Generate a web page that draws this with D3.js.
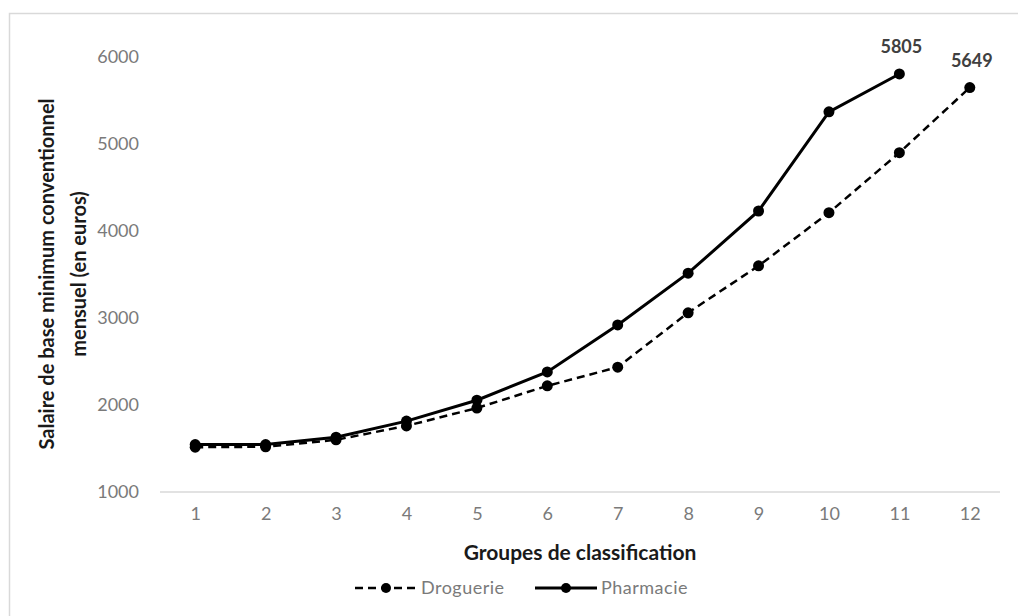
<!DOCTYPE html>
<html>
<head>
<meta charset="utf-8">
<script src="https://cdn.jsdelivr.net/npm/d3@7"></script>
<style>
  body { margin: 0; background: #fff; }
  svg { font-family: Lato, "Open Sans", sans-serif; }
</style>
</head>
<body>
<div id="chart"></div>
<script>
// Salaire de base minimum conventionnel mensuel par groupe de classification

const groups = [1, 2, 3, 4, 5, 6, 7, 8, 9, 10, 11, 12];
const droguerie = [1515, 1520, 1600, 1760, 1965, 2220, 2435, 3060, 3600, 4210, 4900, 5649];
const pharmacie = [1545, 1545, 1630, 1815, 2055, 2380, 2920, 3515, 4230, 5370, 5805];
const yTicks = [1000, 2000, 3000, 4000, 5000, 6000];

const width = 1018, height = 616;
const margin = { top: 57, right: 13, bottom: 124, left: 160 };

const svg = d3.select('#chart').append('svg')
    .attr('width', width)
    .attr('height', height);

// chart area frame
svg.append('rect')
    .attr('x', 9.5).attr('y', 13.5)
    .attr('width', width + 10).attr('height', height + 10)
    .attr('fill', 'none')
    .attr('stroke', '#d9d9d9')
    .attr('stroke-width', 1.5);

const x = d3.scalePoint()
    .domain(groups)
    .range([margin.left, width - margin.right])
    .padding(0.5);

const y = d3.scaleLinear()
    .domain([1000, 6000])
    .range([height - margin.bottom, margin.top]);

// y axis labels (no line)
svg.append('g')
    .attr('transform', `translate(${margin.left - 21},0)`)
    .call(d3.axisLeft(y).tickValues(yTicks).tickFormat(d3.format('d')).tickSize(0).tickPadding(0))
    .call(g => g.select('.domain').remove())
    .call(g => g.selectAll('text')
        .attr('fill', '#7a7a7a')
        .attr('font-size', 18)
        .attr('font-family', 'Lato, "Open Sans", sans-serif'));

// x axis
svg.append('g')
    .attr('transform', `translate(0,${y(1000)})`)
    .call(d3.axisBottom(x).tickSize(0).tickPadding(22))
    .call(g => g.select('.domain')
        .attr('stroke', '#d9d9d9')
        .attr('stroke-width', 1.5)
        .attr('d', `M${margin.left},0H${width - margin.right - 5}`))
    .call(g => g.selectAll('text')
        .attr('fill', '#7a7a7a')
        .attr('font-size', 18)
        .attr('dy', '0.32em')
        .attr('font-family', 'Lato, "Open Sans", sans-serif'));

// axis titles
svg.append('text')
    .attr('transform', 'translate(47,274) rotate(-90)')
    .attr('dy', '0.35em')
    .attr('text-anchor', 'middle')
    .attr('font-size', 20)
    .attr('font-weight', 'bold')
    .attr('fill', '#1a1a1a')
    .text('Salaire de base minimum conventionnel');

svg.append('text')
    .attr('transform', 'translate(79,274) rotate(-90)')
    .attr('dy', '0.35em')
    .attr('text-anchor', 'middle')
    .attr('font-size', 20)
    .attr('font-weight', 'bold')
    .attr('fill', '#1a1a1a')
    .text('mensuel (en euros)');

svg.append('text')
    .attr('x', 580).attr('y', 553)
    .attr('dy', '0.35em')
    .attr('text-anchor', 'middle')
    .attr('font-size', 21)
    .attr('font-weight', 'bold')
    .attr('fill', '#1a1a1a')
    .text('Groupes de classification');

// series
const series = [
    { name: 'Droguerie', values: droguerie, dash: '8,5', width: 2.5 },
    { name: 'Pharmacie', values: pharmacie, dash: null, width: 3 }
];

const line = d3.line()
    .x((d, i) => x(groups[i]))
    .y(d => y(d));

series.forEach(s => {
    svg.append('path')
        .datum(s.values)
        .attr('d', line)
        .attr('fill', 'none')
        .attr('stroke', '#000')
        .attr('stroke-width', s.width)
        .attr('stroke-dasharray', s.dash);

    svg.selectAll(null)
        .data(s.values)
        .enter().append('circle')
        .attr('cx', (d, i) => x(groups[i]))
        .attr('cy', d => y(d))
        .attr('r', 5.5)
        .attr('fill', '#000');

    // label on the last point
    const last = s.values.length - 1;
    svg.append('text')
        .attr('x', x(groups[last]) + 2)
        .attr('y', y(s.values[last]) - 27)
        .attr('dy', '0.35em')
        .attr('text-anchor', 'middle')
        .attr('font-size', 18)
        .attr('font-weight', 'bold')
        .attr('fill', '#404040')
        .text(s.values[last]);
});

// legend
const legend = svg.append('g').attr('transform', 'translate(0,588)');
const legendItems = [
    { name: 'Droguerie', x0: 355, dash: '8,5', width: 2.5 },
    { name: 'Pharmacie', x0: 535, dash: null, width: 3 }
];
legendItems.forEach(it => {
    legend.append('line')
        .attr('x1', it.x0).attr('x2', it.x0 + 62)
        .attr('stroke', '#000')
        .attr('stroke-width', it.width)
        .attr('stroke-dasharray', it.dash);
    legend.append('circle')
        .attr('cx', it.x0 + 31).attr('r', 5).attr('fill', '#000');
    legend.append('text')
        .attr('x', it.x0 + 66).attr('dy', '0.35em')
        .attr('font-size', 18)
        .attr('fill', '#7a7a7a')
        .attr('letter-spacing', '0.5px')
        .text(it.name);
});
</script>
</body>
</html>
